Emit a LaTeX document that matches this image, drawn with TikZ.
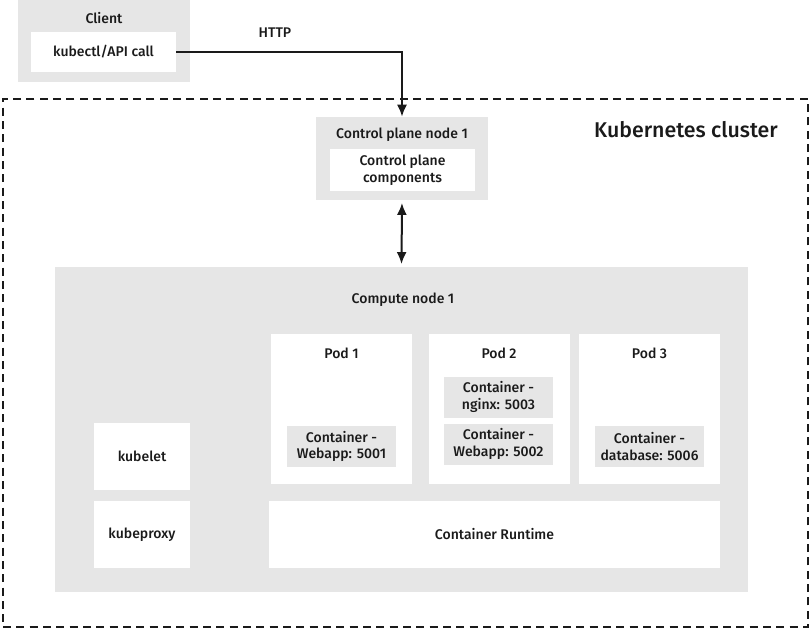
\documentclass[tikz,border=0pt]{standalone}
\usepackage{fontspec}
\setmainfont{Fira Sans Medium}
\usetikzlibrary{arrows.meta}
\definecolor{boxgray}{RGB}{230,230,230}
\definecolor{inkblack}{RGB}{26,26,26}

\begin{document}
\begin{tikzpicture}[x=0.75pt, y=-0.75pt, font=\fontsize{10.5}{12.6}\selectfont, text=inkblack,
	graybox/.style={fill=boxgray, draw=none, inner sep=0pt, align=center},
	whitebox/.style={fill=white, draw=none, inner sep=0pt, align=center},
	podbox/.style={whitebox, minimum width=105.75pt, minimum height=112.5pt},
	containerbox/.style={graybox, minimum width=81.75pt, minimum height=30.75pt},
	sidebox/.style={whitebox, minimum width=72pt, minimum height=50.25pt},
	link/.style={draw=inkblack, line width=1.5pt, -{Latex[length=9pt,width=7.5pt]}}]
		
		\useasboundingbox (0,0) rectangle (812,628);
		
		%Cluster
		\node (cluster) at (405.5,363) [draw=inkblack, line width=1.5pt, dash pattern=on 6pt off 4pt, 
		minimum width=603.75pt, minimum height=396pt, inner sep=0pt]{};
		\node (clustertitle) at (686,130) {\fontsize{16}{19}\selectfont Kubernetes cluster};
		
		%Client
		\node (client) at (104,41) [graybox, minimum width=129pt, minimum height=61.5pt]{};
		\node (clienttitle) at (104,18) {Client};
		\node (kubectl) at (103.5,52) [whitebox, minimum width=108.75pt, minimum height=30pt]{kubectl/API call};
		
		%Control plane
		\node (cpnode) at (402,158.5) [graybox, minimum width=129pt, minimum height=62.25pt]{};
		\node (cptitle) at (402,135) {Control plane node 1};
		\node (cpcomponents) at (402.5,170) [whitebox, minimum width=108.75pt, 
		minimum height=31.5pt]{Control plane\\components};
		
		%Compute node
		\node (compute) at (401.5,429.5) [graybox, minimum width=519.75pt, minimum height=243.75pt]{};
		\node (computetitle) at (403,300) {Compute node 1};
		
		%Pods
		\node (pod1) at (341.5,409) [podbox]{};
		\node (pod2) at (499,409) [podbox]{};
		\node (pod3) at (649.5,409) [podbox]{};
		\node (pod1title) at (341.5,353) {Pod 1};
		\node (pod2title) at (499,353) {Pod 2};
		\node (pod3title) at (649.5,353) {Pod 3};
		
		%Containers
		\node (webapp1) at (341.5,446.5) [containerbox]{Container -\\Webapp: 5001};
		\node (nginx) at (498.5,397) [containerbox]{Container -\\nginx: 5003};
		\node (webapp2) at (498.5,444) [containerbox]{Container -\\Webapp: 5002};
		\node (database) at (649.5,446.5) [containerbox]{Container -\\database: 5006};
		
		%Node agents
		\node (kubelet) at (142,456.5) [sidebox]{kubelet};
		\node (kubeproxy) at (142,534.5) [sidebox]{kubeproxy};
		\node (runtime) at (494.5,534.5) [whitebox, minimum width=338.25pt, 
		minimum height=50.25pt]{Container Runtime};
		
		%Links
		\draw[link] (kubectl.east) -| (cpnode.north);
		\node (http) at (275,33) {HTTP};
		\draw[link, {Latex[length=9pt,width=7.5pt]}-{Latex[length=9pt,width=7.5pt]}, 
		shorten <=2pt, shorten >=2pt] (cpnode.south) -- (compute.north);
		
\end{tikzpicture}
\end{document}
